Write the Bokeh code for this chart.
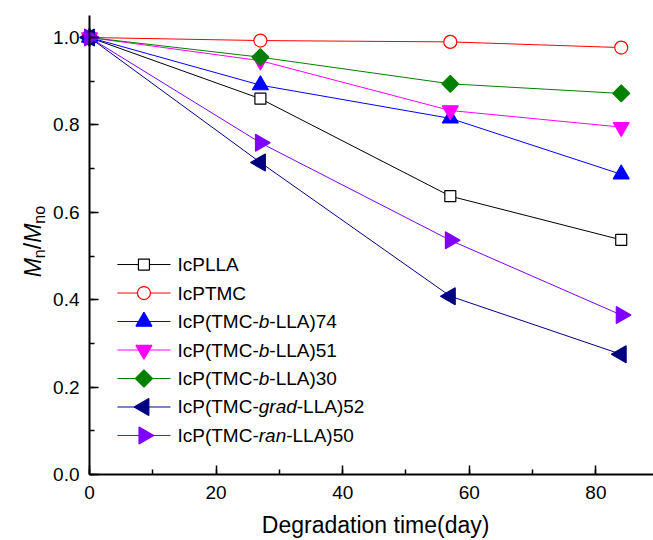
import math
from bokeh.plotting import figure
from bokeh.models import Range1d, SingleIntervalTicker, Label, PrintfTickFormatter
from bokeh.embed import file_html
from bokeh.resources import INLINE

# ---------------- data ----------------
days = [0, 27, 57, 84]
icplla = [1.0, 0.860, 0.637, 0.537]
icptmc = [1.0, 0.993, 0.990, 0.977]
b74 = [1.0, 0.891, 0.815, 0.687]
b51 = [1.0, 0.947, 0.833, 0.795]
b30 = [1.0, 0.955, 0.894, 0.872]
grad52 = [1.0, 0.714, 0.408, 0.275]
ran50 = [1.0, 0.759, 0.536, 0.365]

series = [icplla, icptmc, b74, b51, b30, grad52, ran50]

# legend labels as (text, style) pieces
legend_labels = [
    [("IcPLLA", "normal")],
    [("IcPTMC", "normal")],
    [("IcP(TMC-", "normal"), ("b", "italic"), ("-LLA)74", "normal")],
    [("IcP(TMC-", "normal"), ("b", "italic"), ("-LLA)51", "normal")],
    [("IcP(TMC-", "normal"), ("b", "italic"), ("-LLA)30", "normal")],
    [("IcP(TMC-", "normal"), ("grad", "italic"), ("-LLA)52", "normal")],
    [("IcP(TMC-", "normal"), ("ran", "italic"), ("-LLA)50", "normal")],
]

x_title = "Degradation time(day)"
y_title_pieces = [("M", "italic", 23, 0), ("n", "normal", 16, 6), ("/", "normal", 23, 0),
                  ("M", "italic", 23, 0), ("no", "normal", 16, 6)]

# ---------------- styles ----------------
colors = ["#000000", "#FF0000", "#0000FF", "#FF00FF", "#008000", "#000080", "#8000FF"]
markers = ["square", "circle", "triangle", "inverted_triangle", "square", "triangle", "triangle"]
sizes = [11, 13, 16, 16, 12, 17, 17]
fills = ["white", "white", None, None, None, None, None]
angles = [0, 0, 0, 0, math.pi / 4, math.pi / 2, -math.pi / 2]

FONT = "Liberation Sans"

# Arial advance widths (1/1000 em)
ARIAL_W = {'I': 278, 'c': 500, 'P': 667, '(': 333, ')': 333, 'T': 611, 'M': 833, 'C': 722,
           '-': 333, 'b': 556, 'L': 556, 'A': 667, 'g': 556, 'r': 333, 'a': 556, 'd': 556,
           'n': 556, 'o': 556, '/': 278}
for dch in "0123456789":
    ARIAL_W[dch] = 556


def text_width(s, size):
    return sum(ARIAL_W.get(ch, 556) for ch in s) * size / 1000.0


X_MIN, X_MAX = 0, 89.1
Y_MIN, Y_MAX = 0, 1.05

# The frame covers the whole canvas; both axes are drawn at 0 (fixed_location)
# so that the titles, placed left of / below the axes, remain inside the frame.
p = figure(width=653, height=540, output_backend="svg", toolbar_location=None,
           x_range=Range1d(-14.06, X_MAX), y_range=Range1d(-0.151, 1.0847),
           min_border_left=0, min_border_right=0, min_border_top=0, min_border_bottom=0)
p.outline_line_color = None
p.grid.visible = False
p.background_fill_color = "white"
p.border_fill_color = "white"

# axes
p.yaxis.fixed_location = 0
p.xaxis.fixed_location = 0
p.xaxis.bounds = (X_MIN, X_MAX)
p.yaxis.bounds = (Y_MIN, Y_MAX)
p.xaxis.ticker = SingleIntervalTicker(interval=20, num_minor_ticks=2)
p.yaxis.ticker = SingleIntervalTicker(interval=0.2, num_minor_ticks=2)
p.yaxis.formatter = PrintfTickFormatter(format="%.1f")
for ax in (p.xaxis, p.yaxis):
    ax.axis_line_width = 2
    ax.axis_line_color = "black"
    ax.major_tick_in = 9
    ax.major_tick_out = 0
    ax.minor_tick_in = 5
    ax.minor_tick_out = 0
    ax.major_tick_line_width = 1.5
    ax.minor_tick_line_width = 1.5
    ax.major_tick_line_color = "black"
    ax.minor_tick_line_color = "black"
    ax.major_label_text_font = FONT
    ax.major_label_text_font_size = "19px"
    ax.major_label_text_color = "black"
p.yaxis.major_label_standoff = 10
p.xaxis.major_label_standoff = 11

# series
for ys, c, m, s, f, a in zip(series, colors, markers, sizes, fills, angles):
    p.line(days, ys, line_color=c, line_width=1)
    p.scatter(days, ys, marker=m, size=s, angle=a,
              fill_color=(f if f else c), line_color=c, line_width=1.2)

# legend (manual, to allow italic parts)
leg_y0 = 0.4805
leg_dy = 0.0652
leg_line = (4.4, 12.8)
leg_mark_x = 8.6
leg_text_x = 13.9
LEG_FS = 19
for i, (pieces, c, m, s, f, a) in enumerate(zip(legend_labels, colors, markers, sizes, fills, angles)):
    yy = leg_y0 - i * leg_dy
    p.line(list(leg_line), [yy, yy], line_color=c, line_width=1)
    p.scatter([leg_mark_x], [yy], marker=m, size=s, angle=a,
              fill_color=(f if f else c), line_color=c, line_width=1.2)
    off = 0.0
    for txt, style in pieces:
        p.add_layout(Label(x=leg_text_x, y=yy, x_offset=off, text=txt, text_font=FONT,
                           text_font_size=f"{LEG_FS}px", text_font_style=style,
                           text_color="black", text_align="left", text_baseline="middle"))
        off += text_width(txt, LEG_FS)

# x axis title
p.add_layout(Label(x=45.2, y=0, y_offset=-50, text=x_title, text_font=FONT,
                   text_font_size="23px", text_color="black", text_align="center",
                   text_baseline="alphabetic"))

# y axis title (rotated pieces)
total = sum(text_width(t, fs) for t, _, fs, _ in y_title_pieces)
yoff = -total / 2
for t, style, fs, sub in y_title_pieces:
    p.add_layout(Label(x=-8.85, y=0.533, x_offset=sub, y_offset=yoff,
                       angle=math.pi / 2,
                       text=t, text_font=FONT, text_font_size=f"{fs}px", text_font_style=style,
                       text_color="black", text_align="left", text_baseline="alphabetic"))
    yoff += text_width(t, fs)

open("out.html", "w").write(file_html(p, INLINE))
